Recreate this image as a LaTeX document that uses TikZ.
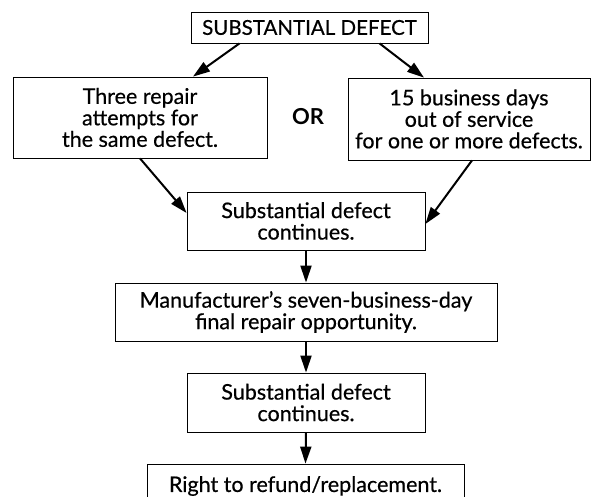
\documentclass[tikz,border=0pt]{standalone}
\usepackage{fontspec}
\setmainfont{Lato}
\newfontfamily\boxfont{Lato}[FakeBold=0.5]
\usetikzlibrary{arrows.meta}

\begin{document}
\begin{tikzpicture}[x=1pt,y=-1pt,
  box/.style n args={2}{draw,line width=0.8pt,minimum width=#1pt,minimum height=#2pt,align=center,inner sep=1pt,font=\boxfont\fontsize{21.5}{21.5}\selectfont},
  arr/.style={-{Triangle[length=17pt,width=11pt]},line width=2pt}]
\useasboundingbox (0,0) rectangle (591,497);
\clip (0,0) rectangle (591,497);
\node[box={237}{31},font=\boxfont\fontsize{20.5}{20.5}\selectfont] (defect) at (309.5,27.5) {SUBSTANTIAL DEFECT};
\node[box={254}{81}] (repairs) at (140,117.5) {Three repair\\attempts for\\the same defect.};
\node[box={242}{82}] (days) at (469,119) {15 business days\\out of service\\for one or more defects.};
\node[font=\fontsize{22}{22}\selectfont\bfseries] (or) at (308,117) {OR};
\node[box={238}{58}] (cont1) at (306,221) {Substantial defect\\continues.};
\node[box={382}{58}] (final) at (306,312) {Manufacturer’s seven-business-day\\final repair opportunity.};
\node[box={238}{59}] (cont2) at (306,402.5) {Substantial defect\\continues.};
\node[box={317}{44}] (refund) at (305.5,486) {Right to refund/replacement.};
\draw[arr] ([xshift=-70pt]defect.south) -- ([xshift=53pt]repairs.north);
\draw[arr] ([xshift=70pt]defect.south) -- ([xshift=-45pt]days.north);
\draw[arr] (repairs.south) -- ([yshift=8pt]cont1.west);
\draw[arr] ([xshift=3pt]days.south) -- ([yshift=-3pt]cont1.east);
\foreach \a/\b in {cont1/final,final/cont2,cont2/refund} {
  \draw[arr] (\a.south) -- (\b.north);
}
\end{tikzpicture}
\end{document}
